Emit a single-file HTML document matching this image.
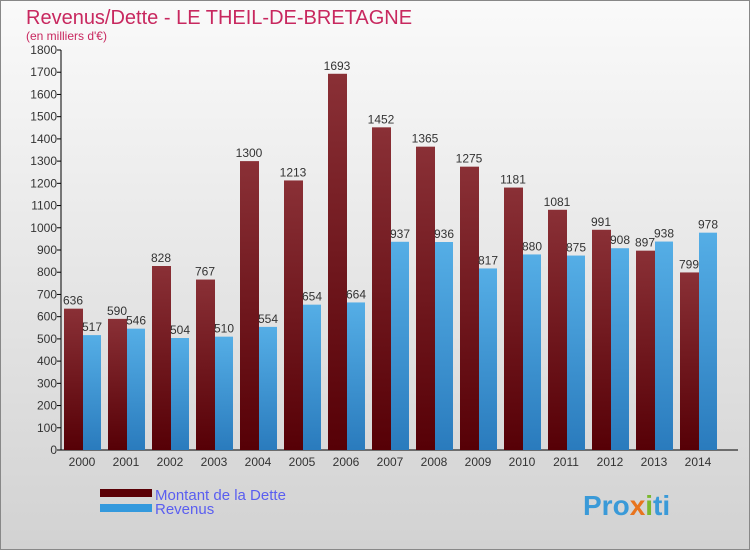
<!DOCTYPE html>
<html><head><meta charset="utf-8"><style>
html,body{margin:0;padding:0;}
body{width:750px;height:550px;overflow:hidden;font-family:"Liberation Sans",sans-serif;}
</style></head><body>
<svg width="750" height="550" xmlns="http://www.w3.org/2000/svg">
<defs>
<linearGradient id="bg" x1="0" y1="0" x2="0" y2="1"><stop offset="0" stop-color="#fafafa"/><stop offset="1" stop-color="#d2d2d2"/></linearGradient>
<linearGradient id="gd" x1="0" y1="0" x2="0" y2="1"><stop offset="0" stop-color="#8a3036"/><stop offset="1" stop-color="#560006"/></linearGradient>
<linearGradient id="gr" x1="0" y1="0" x2="0" y2="1"><stop offset="0" stop-color="#55aee6"/><stop offset="1" stop-color="#2a7bbd"/></linearGradient>
</defs>
<rect x="0.5" y="0.5" width="749" height="549" fill="url(#bg)" stroke="#888"/>
<text x="26" y="24" font-size="20" fill="#c8285f">Revenus/Dette - LE THEIL-DE-BRETAGNE</text>
<text x="26" y="40" font-size="12" fill="#c8285f">(en milliers d'€)</text>
<g id="axes"></g>
<g id="bars"></g>
<g>
<rect x="100" y="489" width="52" height="8" fill="#5a0006"/>
<text x="155" y="500" font-size="15" fill="#5a5ef0">Montant de la Dette</text>
<rect x="100" y="504" width="52" height="8" fill="#3399dd"/>
<text x="155" y="514" font-size="15" fill="#5a5ef0">Revenus</text>
</g>
<text x="583" y="515" font-size="28" font-weight="bold" fill="#3a9ad8">Pro<tspan fill="#e8741e">x</tspan><tspan fill="#7ab82e">i</tspan>ti</text>
</svg>
<script>
const years=["2000","2001","2002","2003","2004","2005","2006","2007","2008","2009","2010","2011","2012","2013","2014"];
const dette=[636,590,828,767,1300,1213,1693,1452,1365,1275,1181,1081,991,897,799];
const revenus=[517,546,504,510,554,654,664,937,936,817,880,875,908,938,978];
const ticks=[0,100,200,300,400,500,600,700,800,900,1000,1100,1200,1300,1400,1500,1600,1700,1800];
const NS="http://www.w3.org/2000/svg";
const y=v=>450-v*400/1800;
const x0=i=>64+i*44;
const axes=document.getElementById('axes'),bars=document.getElementById('bars');
function mk(tag,attrs,parent){const e=document.createElementNS(NS,tag);for(const k in attrs)e.setAttribute(k,attrs[k]);parent.appendChild(e);return e;}
let l=mk('line',{x1:61,y1:50,x2:61,y2:450,stroke:'#000'},axes);


l=mk('line',{x1:61,y1:450,x2:738,y2:450,stroke:'#000'},axes);


ticks.forEach(t=>{
 const tk=mk('line',{x1:57,y1:y(t),x2:61,y2:y(t),stroke:'#000'},axes);
 
 
 const tx=mk('text',{x:57,y:y(t)+4,'font-size':12,'text-anchor':'end',fill:'#333'},axes);
 tx.textContent=t;
 
 
});
years.forEach((yr,i)=>{
 const tx=mk('text',{x:x0(i)+18,y:466,'font-size':12,'text-anchor':'middle',fill:'#333'},axes);
 tx.textContent=yr;
 
 
 const b1=mk('rect',{x:x0(i),y:y(dette[i]),width:19,height:450-y(dette[i]),fill:'url(#gd)'},bars);
 
 
 const b2=mk('rect',{x:x0(i)+19,y:y(revenus[i]),width:18,height:450-y(revenus[i]),fill:'url(#gr)'},bars);
 
 
 const v1=mk('text',{x:x0(i)+9,y:y(dette[i])-4,'font-size':12,'text-anchor':'middle',fill:'#333'},bars);
 v1.textContent=dette[i];
 
 
 const v2=mk('text',{x:x0(i)+28,y:y(revenus[i])-4,'font-size':12,'text-anchor':'middle',fill:'#333'},bars);
 v2.textContent=revenus[i];
 
 
});
</script>
</body></html>
